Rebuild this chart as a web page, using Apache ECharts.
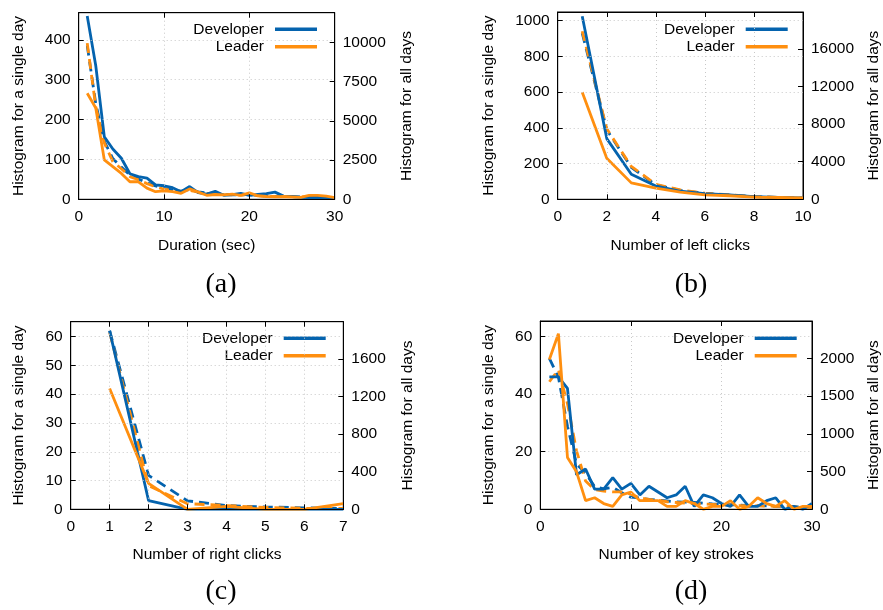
<!DOCTYPE html>
<html><head><meta charset="utf-8">
<script src="https://cdn.jsdelivr.net/npm/echarts@6/dist/echarts.min.js"></script>
<style>html,body{margin:0;padding:0;background:#fff}#c{width:883px;height:610px}</style>
</head><body><div id="c"></div>
<script>
// ---- (a) Duration ----
const durationX = [1,2,3,4,5,6,7,8,9,10,11,12,13,14,15,16,17,18,19,20,21,22,23,24,25,26,27,28,29,30];
const durDevDay = [460,335,157,126,103,64,57,53,36,34,29,19,32,17,13,20,10,12,15,10,12,14,18,8,7,5,4,5,3,2];
const durLeadDay = [266,229,99,82,65,44,44,28,19,21,19,15,26,18,10,12,11,13,10,16,9,7,6,7,6,5,10,10,8,4];
const durDevAll = [9800,6100,3700,2600,2050,1550,1300,1050,850,700,600,520,620,470,400,380,310,290,270,320,230,210,190,180,170,150,140,140,120,100];
const durLeadAll = [9960,5900,3600,2400,1950,1450,1250,1000,800,650,560,500,560,450,380,380,300,280,260,330,220,200,180,170,160,150,170,170,150,110];
// ---- (b) Left clicks ----
const leftX = [1,2,3,4,5,6,7,8,9,10];
const leftDevDay = [1025,340,140,75,45,32,25,15,10,8];
const leftLeadDay = [600,230,92,62,40,25,20,12,10,8];
const leftDevAll = [17700,7400,3400,1550,950,620,450,280,190,110];
const leftLeadAll = [17900,7500,3500,1600,1000,650,480,300,200,120];
// ---- (c) Right clicks ----
const rightX = [1,2,3,4,5,6,7];
const rightDevDay = [62,3,0,0,0,0,0];
const rightLeadDay = [42,9,0,1,0,0,2];
const rightDevAll = [1900,360,90,40,25,15,10];
const rightLeadAll = [1880,250,60,40,20,10,10];
// ---- (d) Key strokes ----
const keyX = [1,2,3,4,5,6,7,8,9,10,11,12,13,14,15,16,17,18,19,20,21,22,23,24,25,26,27,28,29,30];
const keyDevDay = [46,46,42,12,14,7,7,11,7,9,5,8,6,4,5,8,1,5,4,2,1,5,1,1,3,4,0,1,0,2];
const keyLeadDay = [52,61,18,13,3,4,2,1,5,6,3,3,3,1,1,3,2,0,1,1,3,0,1,4,2,1,3,0,1,1];
const keyDevAll = [2000,1750,1100,600,480,300,270,290,220,160,150,130,120,110,100,95,90,80,70,65,60,55,50,48,45,40,38,35,32,30];
const keyLeadAll = [1690,1850,1400,775,375,260,240,230,230,200,150,130,120,100,90,80,75,70,65,60,55,50,48,45,42,40,38,35,30,25];

const tickLabels = {
  a: {xName: 'Duration (sec)', tag: '(a)'},
  b: {xName: 'Number of left clicks', tag: '(b)'},
  c: {xName: 'Number of right clicks', tag: '(c)'},
  d: {xName: 'Number of key strokes', tag: '(d)'}
};
const yName = 'Histogram for a single day';
const y2Name = 'Histogram for all days';

const BLUE = '#0463ae', ORANGE = '#ff8f0f';
const FONT = 'Liberation Sans';
const FS = 15.5;

const panels = [
  {k:'a', x:durationX, dd:durDevDay, ld:durLeadDay, da:durDevAll, la:durLeadAll,
   xMax:30, xInt:10, yMax:468, yInt:100, y2Max:11900, y2Int:2500,
   grid:{left:78.7, top:12.7, width:256, height:186.6}, lg:{right:566, top:20.5},
   lGap:52, rGap:64, xGap:38, tag:[221,285]},
  {k:'b', x:leftX, dd:leftDevDay, ld:leftLeadDay, da:leftDevAll, la:leftLeadAll,
   xMax:10, xInt:2, yMax:1049, yInt:200, y2Max:19950, y2Int:4000,
   grid:{left:557.7, top:12, width:247.3, height:187.3}, lg:{right:95.3, top:20.5},
   lGap:61, rGap:63, xGap:38, tag:[691,285]},
  {k:'c', x:rightX, dd:rightDevDay, ld:rightLeadDay, da:rightDevAll, la:rightLeadAll,
   xMax:7, xInt:1, yMax:65.2, yInt:10, y2Max:1995, y2Int:400,
   grid:{left:70.7, top:321.7, width:272.6, height:187.6}, lg:{right:557.3, top:329.6},
   lGap:44, rGap:56, xGap:37, tag:[221,592]},
  {k:'d', x:keyX, dd:keyDevDay, ld:keyLeadDay, da:keyDevAll, la:keyLeadAll,
   xMax:30, xInt:10, yMax:65.4, yInt:20, y2Max:2495, y2Int:500,
   grid:{left:540.3, top:321, width:273.4, height:188.3}, lg:{right:86.3, top:329.6},
   lGap:44, rGap:54, xGap:37, tag:[691,592]}
];

const pairs = (xs, ys) => xs.map((v, i) => [v, ys[i]]);
const plain = v => String(v);
const txt = {color:'#000', fontFamily:FONT, fontSize:FS};
const grid = [], xAxis = [], yAxis = [], series = [], legend = [], graphic = [];

panels.forEach((p, i) => {
  grid.push(Object.assign({show:true, borderColor:'#000', borderWidth:1, containLabel:false}, p.grid));
  const axLine = {show:true, onZero:false, lineStyle:{color:'#000', width:1}};
  const tick = {show:true, inside:true, length:5, lineStyle:{color:'#000'}};
  const split = {show:true, lineStyle:{color:'#c8c8c8', type:[1,3], width:1}};
  xAxis.push({gridIndex:i, type:'value', min:0, max:p.xMax, interval:p.xInt, position:'bottom', z:5,
    axisLine:axLine, axisTick:tick, splitLine:split,
    axisLabel:Object.assign({margin:9, formatter:plain}, txt),
    name:tickLabels[p.k].xName, nameLocation:'middle', nameGap:p.xGap, nameTextStyle:txt});
  xAxis.push({gridIndex:i, type:'value', min:0, max:p.xMax, interval:p.xInt, position:'top', z:5,
    axisLine:axLine, axisTick:tick, splitLine:{show:false}, axisLabel:{show:false}});
  yAxis.push({gridIndex:i, type:'value', min:0, max:p.yMax, interval:p.yInt, position:'left', z:5,
    axisLine:axLine, axisTick:tick, splitLine:split,
    axisLabel:Object.assign({margin:8, showMaxLabel:false, formatter:plain}, txt),
    name:yName, nameLocation:'middle', nameGap:p.lGap, nameTextStyle:txt});
  yAxis.push({gridIndex:i, type:'value', min:0, max:p.y2Max, interval:p.y2Int, position:'right', z:5,
    axisLine:axLine, axisTick:tick, splitLine:{show:false},
    axisLabel:Object.assign({margin:8, showMaxLabel:false, formatter:plain}, txt),
    name:y2Name, nameLocation:'middle', nameGap:p.rGap, nameTextStyle:txt});
  const base = {type:'line', xAxisIndex:2*i, showSymbol:false, symbol:'none', animation:false, silent:true};
  series.push(Object.assign({}, base, {name:'Developer (all days)', yAxisIndex:2*i+1, data:pairs(p.x, p.da),
    lineStyle:{color:BLUE, width:2.8, type:[10,6]}, itemStyle:{color:BLUE}, z:2}));
  series.push(Object.assign({}, base, {name:'Leader (all days)', yAxisIndex:2*i+1, data:pairs(p.x, p.la),
    lineStyle:{color:ORANGE, width:2.8, type:[10,6]}, itemStyle:{color:ORANGE}, z:3}));
  series.push(Object.assign({}, base, {name:'Developer', yAxisIndex:2*i, data:pairs(p.x, p.dd),
    lineStyle:{color:BLUE, width:2.8}, itemStyle:{color:BLUE}, z:4}));
  series.push(Object.assign({}, base, {name:'Leader', yAxisIndex:2*i, data:pairs(p.x, p.ld),
    lineStyle:{color:ORANGE, width:2.8}, itemStyle:{color:ORANGE}, z:4}));
  legend.push({data:['Developer','Leader'], orient:'vertical', align:'right', right:p.lg.right, top:p.lg.top,
    icon:'rect', itemWidth:42, itemHeight:3.5, itemGap:0, selectedMode:false, padding:0,
    textStyle:Object.assign({lineHeight:17.5, padding:[0,6,0,0]}, txt)});
  graphic.push({type:'text', x:p.tag[0], y:p.tag[1], silent:true,
    style:{text:tickLabels[p.k].tag, fontFamily:'Liberation Serif', fontSize:28, fill:'#000', align:'center', verticalAlign:'middle'}});
});

const chart = echarts.init(document.getElementById('c'), null, {renderer:'canvas'});
chart.setOption({backgroundColor:'#fff', animation:false, grid, xAxis, yAxis, series, legend, graphic});
</script>
</body></html>
